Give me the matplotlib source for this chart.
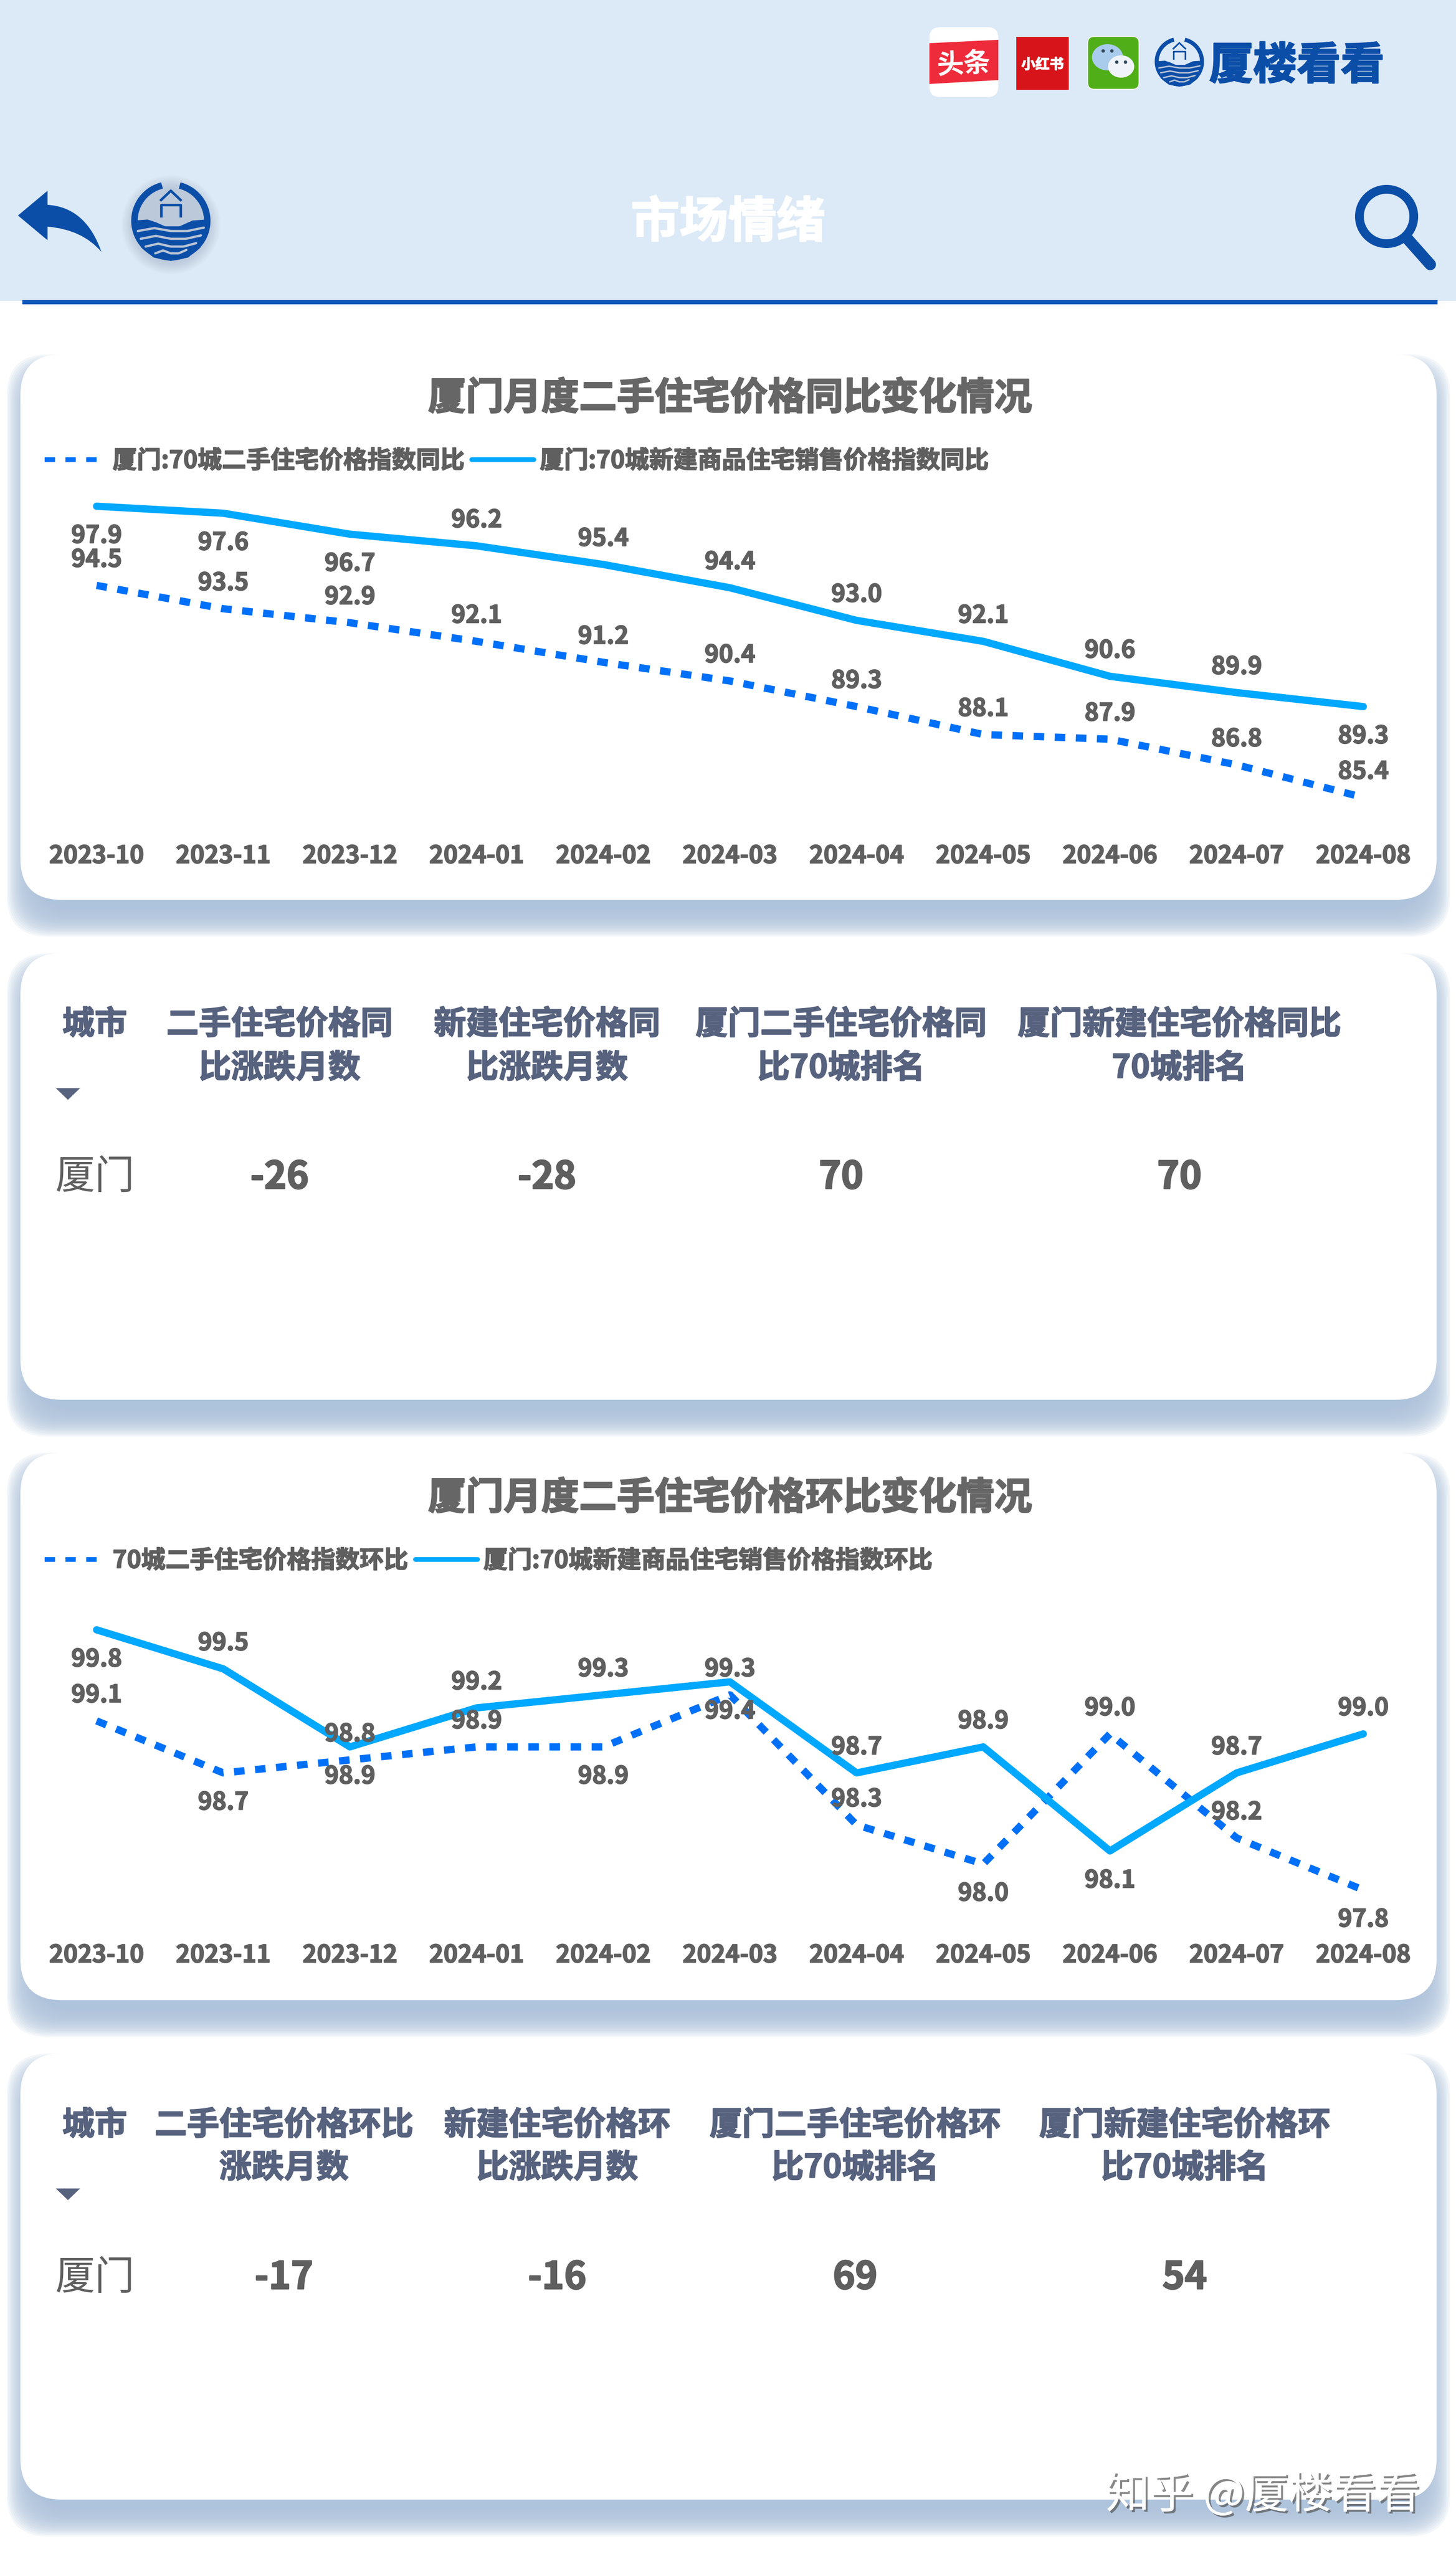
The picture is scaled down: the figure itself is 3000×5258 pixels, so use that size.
# 厦门二手住宅价格 同比/环比 看板
import matplotlib
matplotlib.use("Agg")
import matplotlib.pyplot as plt
import matplotlib.patheffects as pe
from matplotlib.lines import Line2D
from matplotlib.patches import Circle, Ellipse, FancyBboxPatch, PathPatch, Polygon, Rectangle, Arc
from matplotlib.path import Path

plt.rcParams['font.family'] = ['Noto Sans CJK SC', 'DejaVu Sans']

W, H = 3000, 5258

# dados
months = ['2023-10', '2023-11', '2023-12', '2024-01', '2024-02', '2024-03',
          '2024-04', '2024-05', '2024-06', '2024-07', '2024-08']

yoy_old = [94.5, 93.5, 92.9, 92.1, 91.2, 90.4, 89.3, 88.1, 87.9, 86.8, 85.4]
yoy_new = [97.9, 97.6, 96.7, 96.2, 95.4, 94.4, 93.0, 92.1, 90.6, 89.9, 89.3]
mom_old = [99.1, 98.7, 98.8, 98.9, 98.9, 99.3, 98.3, 98.0, 99.0, 98.2, 97.8]
mom_new = [99.8, 99.5, 98.9, 99.2, 99.3, 99.4, 98.7, 98.9, 98.1, 98.7, 99.0]

# lado do rotulo: 1 acima, -1 abaixo
yoy_old_side = [1] * 11
yoy_new_side = [-1, -1, -1, 1, 1, 1, 1, 1, 1, 1, -1]
mom_old_side = [1, -1, 1, 1, -1, 1, 1, -1, 1, 1, -1]
mom_new_side = [-1, 1, -1, 1, 1, -1, 1, 1, -1, 1, 1]

yoy_headers = [['城市'], ['二手住宅价格同', '比涨跌月数'], ['新建住宅价格同', '比涨跌月数'],
               ['厦门二手住宅价格同', '比70城排名'], ['厦门新建住宅价格同比', '70城排名']]
yoy_row = ['厦门', '-26', '-28', '70', '70']
mom_headers = [['城市'], ['二手住宅价格环比', '涨跌月数'], ['新建住宅价格环', '比涨跌月数'],
               ['厦门二手住宅价格环', '比70城排名'], ['厦门新建住宅价格环', '比70城排名']]
mom_row = ['厦门', '-17', '-16', '69', '54']

C_OLD = '#0070F8'
C_NEW = '#00A8FF'
C_TEXT = '#5F5F5F'
C_HEAD = '#56627E'
C_NAVY = '#0B4EA8'
C_BG = '#DCE9F7'
TY = 6  # a fonte fica um pouco alta com va='center'


def grosso(cor, lw=1.4):
    return [pe.withStroke(linewidth=lw, foreground=cor)]


fig = plt.figure(figsize=(W / 100, H / 100), dpi=100, facecolor='white')

# eixo de fundo em pixels
bg = fig.add_axes([0, 0, 1, 1])
bg.set_xlim(0, W)
bg.set_ylim(H, 0)
bg.axis('off')


def card(x0, y0, x1, y1, r=85):
    # sombra feita de varias camadas, deslocada para baixo
    n = 26
    for i in range(n):
        e = 38 - 76 * i / (n - 1)
        ex = e - 10
        bg.add_patch(FancyBboxPatch((x0 - ex, y0 + 38 - e), x1 - x0 + 2 * ex, y1 - y0 + 2 * e,
                                    boxstyle=f'round,pad=0,rounding_size={r}',
                                    fc='#AEC3DC', ec='none', alpha=0.13, zorder=1))
    bg.add_patch(FancyBboxPatch((x0, y0), x1 - x0, y1 - y0,
                                boxstyle=f'round,pad=0,rounding_size={r}',
                                fc='white', ec='none', zorder=2))


def logo(cx, cy, r, shadow=False):
    k = r / 82
    if shadow:
        for i in range(12):
            bg.add_patch(Circle((cx, cy + 8 * k), r + (20 - 2.4 * i) * k, fc='#8C9BB0', ec='none', alpha=0.035, zorder=3))
    bg.add_patch(Arc((cx, cy), 150 * k, 150 * k, theta1=-76, theta2=256, ec=C_NAVY, lw=9.6 * k, zorder=4))
    # agua
    top = [(-74, 0), (-48, -2), (-30, 4), (-12, 12), (18, 12), (45, 0), (74, -2)]
    bot = [(75, 25), (60, 55), (35, 75), (0, 82), (-35, 75), (-60, 55), (-75, 25)]
    bg.add_patch(Polygon([(cx + a * k, cy + b * k) for a, b in top + bot], closed=True, fc=C_NAVY, ec=C_NAVY, lw=1,
                         zorder=5))
    for dy, sx in [(18, 68), (34, 62), (50, 52), (64, 32)]:
        xs = [cx - sx * k, cx - sx * 0.5 * k, cx, cx + sx * 0.5 * k, cx + sx * k]
        ys = [cy + (dy + d) * k for d in (3, -3, 3, 3, -4)]
        bg.plot(xs, ys, color='#B9C4D4', lw=3.4 * k, solid_capstyle='round', zorder=6)
    # casinha
    bg.plot([cx - 20 * k, cx, cx + 20 * k], [cy - 43 * k, cy - 62 * k, cy - 43 * k], color=C_NAVY, lw=3.8 * k, zorder=6)
    bg.plot([cx - 20 * k, cx - 20 * k, cx + 20 * k, cx + 20 * k], [cy - 10 * k, cy - 33 * k, cy - 33 * k, cy - 10 * k],
            color=C_NAVY, lw=3.8 * k, zorder=6)


# cabecalho
bg.add_patch(Rectangle((0, 0), W, 620, fc=C_BG, ec='none', zorder=0))
bg.add_patch(Rectangle((46, 618), 2916, 9, fc='#0A56B8', ec='none', zorder=5))
bg.text(1500, 453 + TY, '市场情绪', color='white', fontsize=72, fontweight='bold', ha='center', va='center', zorder=6,
        path_effects=grosso('white', 2))

# seta de voltar
arrow_path = Path([(37, 444), (98, 393), (98, 422), (177, 427), (209, 519), (170, 473), (98, 467), (98, 495), (37, 444)],
                  [Path.MOVETO, Path.LINETO, Path.LINETO, Path.CURVE3, Path.CURVE3, Path.CURVE3, Path.CURVE3,
                   Path.LINETO, Path.CLOSEPOLY])
bg.add_patch(PathPatch(arrow_path, fc=C_NAVY, ec='none', zorder=5))
logo(352, 455, 82, shadow=True)

# lupa
bg.add_patch(Ellipse((2857, 446), 112, 112, fc='none', ec=C_NAVY, lw=13, zorder=5))
bg.plot([2900, 2947], [492, 545], color=C_NAVY, lw=17, solid_capstyle='round', zorder=5)

# icones do topo
bg.add_patch(FancyBboxPatch((1915, 56), 142, 144, boxstyle='round,pad=0,rounding_size=22', fc='white', ec='none', zorder=3))
bg.add_patch(Polygon([(1915, 89), (2057, 82), (2057, 165), (1915, 173)], closed=True, fc='#EE2B3B', ec='none', zorder=4))
bg.text(1986, 127 + TY, '头条', color='white', fontsize=40, fontweight='bold', ha='center', va='center', rotation=3, zorder=5)
bg.add_patch(Rectangle((2094, 76), 108, 109, fc='#D7141A', ec='none', zorder=4))
bg.text(2148, 130 + 3, '小红书', color='white', fontsize=21, fontweight='bold', ha='center', va='center', zorder=5,
        path_effects=grosso('white', 1))
bg.add_patch(FancyBboxPatch((2241, 75), 106, 109, boxstyle='round,pad=0,rounding_size=14', fc='#50AE18', ec='#F2F6EE', lw=1.5, zorder=4))
bg.add_patch(Ellipse((2282, 118), 64, 54, fc='#A9CBEC', ec='none', zorder=5))
bg.add_patch(Ellipse((2310, 137), 54, 46, fc='#F0F4FA', ec='none', zorder=6))
for ex, ey, ez in [(2273, 105, 5), (2291, 105, 5), (2301, 128, 6), (2319, 128, 6)]:
    bg.add_patch(Circle((ex, ey), 3.5, fc='#32465A', ec='none', zorder=ez + 1))
logo(2430, 127, 51)
bg.text(2672, 130 + TY, '厦楼看看', color=C_NAVY, fontsize=65, fontweight='bold', ha='center', va='center', zorder=5,
        path_effects=grosso(C_NAVY, 2))

# cartoes
card(42, 730, 2960, 1854)
card(42, 1964, 2960, 2884)
card(42, 2993, 2960, 4121)
card(42, 4231, 2960, 5150)


def line_chart(y_top, y_bot, title, title_y, old, new, old_side, new_side, legend_y, old_label, new_label, pad):
    ax = fig.add_axes([199 / W, 1 - y_bot / H, 2610 / W, (y_bot - y_top) / H])
    ax.patch.set_alpha(0)
    ax.set_xlim(0, len(months) - 1)
    ax.set_ylim(min(old + new), max(old + new))
    ax.plot(range(len(old)), old, color=C_OLD, lw=10.8, ls=(0, (1.45, 1.45)), dash_capstyle='butt',
            dash_joinstyle='round', clip_on=False, zorder=3)
    ax.plot(range(len(new)), new, color=C_NEW, lw=10.8, solid_capstyle='round', solid_joinstyle='round',
            clip_on=False, zorder=4)
    for serie, lados in [(old, old_side), (new, new_side)]:
        for i, v in enumerate(serie):
            ax.annotate(f'{v:.1f}', (i, v), xytext=(0, 41 * lados[i] - 3), textcoords='offset points', ha='center',
                        va='center', fontsize=36, fontweight='bold', color=C_TEXT, zorder=6,
                        annotation_clip=False, path_effects=grosso(C_TEXT))
    ax.set_xticks(range(len(months)), months)
    ax.set_yticks([])
    ax.tick_params(axis='x', length=0, pad=pad + 3, labelsize=36, labelcolor=C_TEXT)
    for lb in ax.get_xticklabels():
        lb.set_fontweight('bold')
        lb.set_va('center')
        lb.set_path_effects(grosso(C_TEXT))
    for s in ax.spines.values():
        s.set_visible(False)
    handles = [Line2D([], [], color=C_OLD, lw=7, ls=(0, (2.2, 2.2)), dash_capstyle='butt'),
               Line2D([], [], color=C_NEW, lw=7, solid_capstyle='round')]
    leg = ax.legend(handles, [old_label, new_label], ncol=2, loc='center left', frameon=False,
                    bbox_to_anchor=(92 / W, 1 - (legend_y + TY) / H), bbox_transform=fig.transFigure,
                    borderpad=0, borderaxespad=0, handlelength=2.56, handletextpad=0.24, columnspacing=0.3,
                    prop={'size': 36, 'weight': 'bold'})
    for t in leg.get_texts():
        t.set_color(C_TEXT)
        t.set_path_effects(grosso(C_TEXT))
    bg.text(1504, title_y + TY, title, color='#666666', fontsize=56, fontweight='bold', ha='center', va='center', zorder=6,
            path_effects=grosso('#666666', 2))


def table(col_x, head_y1, head_y2, tri_y, row_y, headers, row):
    for x, linhas in zip(col_x, headers):
        for y, linha in zip((head_y1, head_y2), linhas):
            bg.text(x, y + TY, linha, color=C_HEAD, fontsize=48, fontweight='bold', ha='center', va='center', zorder=6,
                    path_effects=grosso(C_HEAD, 1.6))
    bg.add_patch(Polygon([(115, tri_y - 12), (165, tri_y - 12), (140, tri_y + 12)], closed=True, fc=C_HEAD, ec='none', zorder=6))
    for j, (x, val) in enumerate(zip(col_x, row)):
        if j == 0:
            bg.text(x, row_y + TY, val, color=C_TEXT, fontsize=59, ha='center', va='center', zorder=6)
        else:
            bg.text(x, row_y + TY, val, color=C_TEXT, fontsize=56, fontweight='bold', ha='center', va='center', zorder=6,
                    path_effects=grosso(C_TEXT, 2))


line_chart(1043, 1643, '厦门月度二手住宅价格同比变化情况', 815, yoy_old, yoy_new, yoy_old_side, yoy_new_side, 944,
           '厦门:70城二手住宅价格指数同比', '厦门:70城新建商品住宅销售价格指数同比', 84)
table([195, 576, 1127, 1733, 2430], 2105, 2195, 2254, 2420, yoy_headers, yoy_row)

line_chart(3358, 3894, '厦门月度二手住宅价格环比变化情况', 3081, mom_old, mom_new, mom_old_side, mom_new_side, 3210,
           '70城二手住宅价格指数环比', '厦门:70城新建商品住宅销售价格指数环比', 94)
table([195, 585, 1148, 1762, 2441], 4373, 4461, 4521, 4687, mom_headers, mom_row)

# marca d'agua
bg.text(2602, 5136 + TY, '知乎 @厦楼看看', color='white', fontsize=65, ha='center', va='center', zorder=7,
        path_effects=[pe.withSimplePatchShadow(offset=(3, -3), shadow_rgbFace='#555555', alpha=0.7), pe.Normal()])

fig.savefig('out.png', dpi=100)
